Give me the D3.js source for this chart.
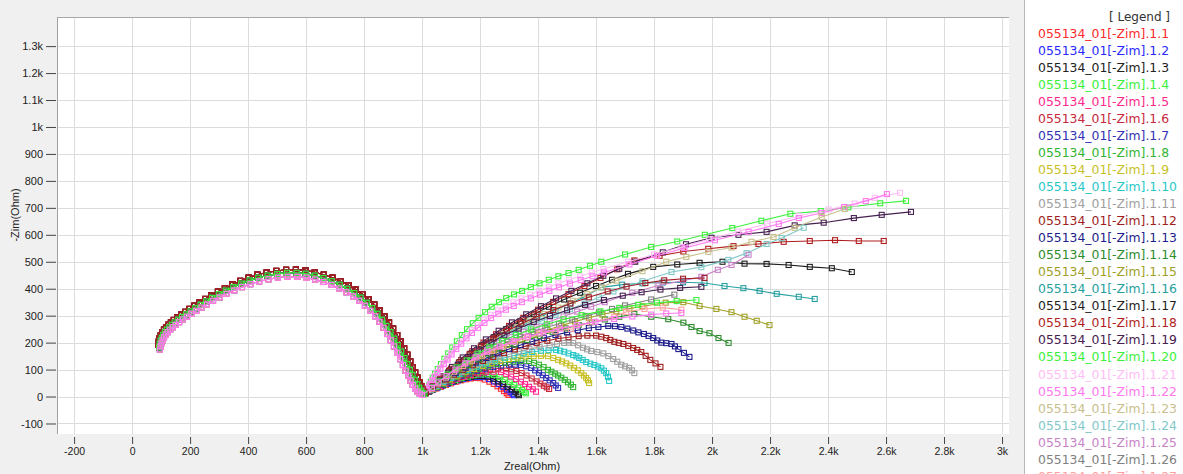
<!DOCTYPE html>
<html><head><meta charset="utf-8">
<script src="https://cdn.jsdelivr.net/npm/d3@7/dist/d3.min.js"></script>
<style>
html,body{margin:0;padding:0;background:#f0f0f0;}
svg{display:block;}
</style></head>
<body>
<svg id="chart" width="1183" height="474"></svg>
<script>
// ---------- data ----------
const XTICKS = [-200,0,200,400,600,800,1000,1200,1400,1600,1800,2000,2200,2400,2600,2800,3000];
const YTICKS = [-100,0,100,200,300,400,500,600,700,800,900,1000,1100,1200,1300];

const SERIES_NAMES = [
 "055134_01[-Zim].1.1","055134_01[-Zim].1.2","055134_01[-Zim].1.3","055134_01[-Zim].1.4",
 "055134_01[-Zim].1.5","055134_01[-Zim].1.6","055134_01[-Zim].1.7","055134_01[-Zim].1.8",
 "055134_01[-Zim].1.9","055134_01[-Zim].1.10","055134_01[-Zim].1.11","055134_01[-Zim].1.12",
 "055134_01[-Zim].1.13","055134_01[-Zim].1.14","055134_01[-Zim].1.15","055134_01[-Zim].1.16",
 "055134_01[-Zim].1.17","055134_01[-Zim].1.18","055134_01[-Zim].1.19","055134_01[-Zim].1.20",
 "055134_01[-Zim].1.21","055134_01[-Zim].1.22","055134_01[-Zim].1.23","055134_01[-Zim].1.24",
 "055134_01[-Zim].1.25","055134_01[-Zim].1.26","055134_01[-Zim].1.27","055134_01[-Zim].1.28",
 "055134_01[-Zim].1.29","055134_01[-Zim].1.30","055134_01[-Zim].1.31"];

const SERIES_COLORS = [
 "#ff2a2a","#2a2aff","#222222","#3cf03c","#ff2a8c","#c8283c","#3232b4","#32b432",
 "#c8c028","#28c8c8","#a0a0a0","#a01e1e","#1e1e8c","#2e8c2e","#a0a028","#28a0a0",
 "#1e1e1e","#b01e1e","#462050","#3cf03c","#ffbef5","#ff78f0","#c8c08c","#82c8c8",
 "#c882c8","#808080","#ffa0a0","#a01e28","#462050","#3cf03c","#ff78f0"];

// high-frequency arc (shared shape, three close variants)
const ARC_HI = [[90,192],[92,204],[95,216],[99,227],[104,238],[110,248],[117,257],[125,266],[134,275],[144,284],[156,294],[169,304],[183,314],[198,325],[215,337],[233,349],[252,362],[273,375],[296,389],[320,402],[346,416],[373,429],[402,441],[432,452],[464,460],[497,466],[531,470],[565,471],[598,468],[630,461],[661,452],[691,441],[719,428],[746,413],[771,397],[794,380],[815,361],[835,341],[853,320],[870,298],[886,275],[900,252],[914,228],[926,204],[938,179],[949,155],[959,131],[968,109],[976,89],[984,70],[991,53],[997,39],[1003,27],[1008,18],[1013,13]];
const ARC_MID = [[93,183],[95,195],[98,207],[102,218],[107,229],[113,239],[120,248],[128,257],[137,266],[147,275],[159,285],[172,295],[186,305],[201,316],[218,328],[236,340],[255,353],[276,366],[299,380],[323,393],[349,406],[376,419],[405,431],[435,441],[467,449],[500,455],[534,459],[567,459],[599,456],[630,449],[660,440],[689,428],[716,415],[742,400],[766,384],[788,367],[809,348],[828,328],[846,307],[862,285],[877,262],[891,239],[904,215],[916,191],[928,167],[939,143],[949,120],[958,99],[967,80],[975,62],[983,46],[990,33],[996,22],[1002,14],[1008,10]];
const ARC_LO = [[96,174],[98,186],[101,198],[105,209],[110,220],[116,230],[123,239],[131,248],[140,257],[150,266],[162,276],[175,286],[189,296],[204,307],[221,318],[239,330],[258,342],[279,355],[302,368],[326,381],[352,394],[379,406],[408,417],[438,427],[470,435],[503,441],[537,444],[570,444],[601,441],[631,434],[660,425],[688,414],[714,401],[739,387],[762,372],[783,355],[803,337],[821,318],[838,298],[853,277],[867,255],[880,232],[892,209],[903,186],[914,162],[924,139],[934,117],[943,96],[952,77],[960,59],[968,43],[976,30],[984,19],[992,11],[1000,6]];
const ARC_OF_SERIES = [0,1,0,1,1,0,1,1,1,1,1,0,1,1,1,1,0,0,1,1,2,2,2,2,2,2,2,0,1,1,2];

// low-frequency tails, one list per series
const TAILS = [
 [[1022,17],[1035,24],[1050,30],[1065,36],[1082,43],[1100,49],[1118,55],[1135,60],[1152,64],[1168,67],[1184,69],[1200,68],[1216,63],[1232,55],[1247,47],[1260,38],[1272,29],[1283,20],[1292,12],[1298,6]],
 [[1023,18],[1037,26],[1053,33],[1070,40],[1088,47],[1105,54],[1124,60],[1142,65],[1160,69],[1178,72],[1196,73],[1213,72],[1231,65],[1248,56],[1264,46],[1280,36],[1293,26],[1305,17],[1312,10],[1317,5]],
 [[1024,19],[1038,27],[1055,35],[1072,42],[1091,50],[1110,57],[1130,63],[1150,69],[1170,73],[1190,76],[1208,76],[1227,74],[1245,66],[1262,56],[1279,46],[1295,36],[1309,26],[1322,16],[1330,10],[1334,5]],
 [[1025,20],[1040,28],[1058,37],[1076,45],[1095,53],[1115,61],[1136,68],[1158,74],[1180,79],[1203,82],[1226,82],[1248,80],[1267,72],[1285,62],[1302,53],[1318,43],[1332,33],[1345,24],[1353,17],[1358,12]],
 [[1026,21],[1042,30],[1061,40],[1080,49],[1101,58],[1122,66],[1145,73],[1168,80],[1194,86],[1220,90],[1246,92],[1272,91],[1290,83],[1307,74],[1324,65],[1341,55],[1355,46],[1369,36],[1382,27],[1393,18]],
 [[1027,22],[1044,32],[1064,43],[1085,53],[1107,63],[1130,72],[1155,80],[1180,88],[1207,94],[1235,100],[1262,104],[1290,106],[1308,101],[1325,95],[1343,87],[1360,78],[1378,67],[1395,56],[1408,48],[1420,40],[1430,34],[1438,28]],
 [[1028,23],[1045,33],[1066,45],[1088,56],[1111,67],[1135,77],[1161,86],[1188,95],[1216,103],[1245,110],[1272,115],[1300,118],[1320,118],[1341,117],[1359,112],[1376,106],[1390,97],[1403,88],[1416,79],[1428,69],[1440,60],[1452,50],[1461,41],[1469,32]],
 [[1029,24],[1047,35],[1069,48],[1092,60],[1116,72],[1142,83],[1169,93],[1197,103],[1227,112],[1258,120],[1286,126],[1315,130],[1342,132],[1369,132],[1386,125],[1403,118],[1419,109],[1434,99],[1446,92],[1458,85],[1469,78],[1480,70],[1492,62],[1503,53],[1513,44],[1521,35]],
 [[1030,25],[1048,37],[1071,51],[1096,64],[1122,77],[1150,90],[1179,102],[1208,113],[1239,123],[1270,132],[1300,139],[1330,145],[1357,148],[1385,150],[1410,151],[1434,150],[1452,143],[1469,136],[1483,130],[1497,123],[1511,115],[1524,106],[1537,97],[1549,87],[1558,78],[1566,69],[1572,60],[1576,50]],
 [[1031,26],[1050,39],[1074,54],[1100,69],[1128,84],[1158,98],[1189,111],[1220,123],[1252,134],[1285,144],[1318,152],[1350,160],[1380,165],[1410,170],[1436,172],[1462,173],[1476,170],[1490,166],[1505,160],[1521,154],[1532,149],[1542,143],[1554,136],[1566,128],[1580,122],[1594,117],[1606,111],[1618,105],[1627,96],[1635,87],[1641,73],[1645,58]],
 [[1032,28],[1052,42],[1077,58],[1105,75],[1135,91],[1166,106],[1199,120],[1232,134],[1266,146],[1300,157],[1335,167],[1370,176],[1405,184],[1440,190],[1465,195],[1490,199],[1506,200],[1521,199],[1538,190],[1555,181],[1569,175],[1583,169],[1604,165],[1625,160],[1642,150],[1659,139],[1673,129],[1687,118],[1700,112],[1714,106],[1724,97],[1732,87]],
 [[1033,30],[1054,45],[1081,63],[1110,81],[1142,99],[1175,116],[1210,132],[1245,147],[1282,161],[1320,175],[1357,187],[1395,198],[1432,207],[1470,215],[1505,220],[1540,224],[1570,226],[1600,226],[1618,222],[1635,217],[1649,210],[1663,203],[1678,199],[1694,195],[1711,188],[1728,180],[1742,173],[1756,165],[1771,151],[1787,136],[1805,123],[1822,110]],
 [[1034,32],[1056,48],[1085,68],[1116,88],[1150,107],[1185,126],[1222,143],[1260,160],[1300,176],[1340,191],[1380,204],[1420,217],[1460,228],[1500,238],[1537,246],[1575,254],[1608,258],[1642,262],[1665,261],[1687,258],[1708,252],[1728,245],[1746,238],[1765,232],[1781,225],[1797,217],[1811,208],[1825,200],[1842,198],[1860,195],[1872,186],[1884,176],[1903,162],[1922,147]],
 [[1035,34],[1058,52],[1088,74],[1122,96],[1158,117],[1196,138],[1236,157],[1277,176],[1319,193],[1362,210],[1406,225],[1450,240],[1495,253],[1540,265],[1585,276],[1630,286],[1680,296],[1732,306],[1790,296],[1849,287],[1901,274],[1929,258],[1957,243],[1991,235],[2022,217],[2057,199]],
 [[1036,36],[1060,56],[1092,80],[1128,104],[1166,127],[1207,150],[1249,171],[1293,192],[1339,211],[1385,230],[1432,247],[1480,263],[1527,278],[1575,292],[1622,304],[1670,316],[1715,326],[1760,335],[1840,348],[1901,350],[1957,336],[2015,325],[2067,313],[2112,296],[2154,281],[2198,265]],
 [[1037,38],[1062,62],[1092,90],[1125,118],[1160,145],[1195,172],[1234,199],[1275,225],[1319,250],[1365,275],[1412,298],[1460,320],[1510,345],[1560,370],[1618,405],[1690,415],[1760,420],[1830,423],[1900,424],[1974,421],[2043,410],[2108,402],[2164,392],[2223,381],[2299,370],[2354,362]],
 [[1038,40],[1064,66],[1096,97],[1130,128],[1167,159],[1205,190],[1247,220],[1290,250],[1337,278],[1385,305],[1437,333],[1490,360],[1545,385],[1600,410],[1655,433],[1710,455],[1797,481],[1880,490],[1957,496],[2036,500],[2112,493],[2188,492],[2264,488],[2337,481],[2413,476],[2482,462]],
 [[1039,42],[1066,70],[1100,103],[1135,136],[1173,168],[1212,200],[1255,231],[1300,262],[1349,292],[1400,322],[1452,351],[1505,380],[1560,410],[1615,440],[1673,472],[1732,505],[1819,522],[1901,538],[1987,548],[2074,558],[2160,566],[2247,574],[2337,577],[2424,580],[2506,577],[2592,577]],
 [[1040,44],[1068,75],[1103,110],[1140,145],[1179,179],[1220,212],[1264,244],[1310,275],[1359,305],[1410,335],[1462,364],[1515,392],[1570,420],[1625,448],[1680,474],[1735,500],[1830,535],[1910,565],[1998,589],[2091,600],[2188,611],[2285,635],[2385,645],[2489,662],[2585,674],[2686,685]],
 [[1020,30],[1025,42],[1030,55],[1037,70],[1045,85],[1054,102],[1065,120],[1077,140],[1090,160],[1104,182],[1120,205],[1137,228],[1155,250],[1175,272],[1195,292],[1217,313],[1240,333],[1265,350],[1290,365],[1317,379],[1345,392],[1375,406],[1405,420],[1437,433],[1470,446],[1505,458],[1540,470],[1579,485],[1618,500],[1700,527],[1790,555],[1880,575],[1975,600],[2070,625],[2170,652],[2270,678],[2375,688],[2470,702],[2580,717],[2669,726]],
 [[1019,26],[1023,36],[1028,46],[1035,60],[1043,74],[1052,90],[1062,106],[1074,124],[1087,142],[1101,162],[1117,183],[1134,204],[1152,225],[1171,246],[1192,266],[1214,285],[1237,303],[1262,320],[1288,336],[1315,350],[1343,364],[1373,378],[1404,392],[1437,406],[1470,420],[1507,433],[1545,446],[1585,460],[1625,473],[1710,500],[1800,527],[1895,555],[1990,583],[2090,612],[2190,641],[2300,670],[2402,694],[2492,716],[2561,737],[2648,756]],
 [[1019,27],[1024,37],[1029,47],[1036,60],[1044,73],[1053,88],[1063,103],[1075,120],[1088,137],[1102,156],[1118,176],[1135,196],[1153,216],[1172,236],[1193,255],[1215,273],[1238,291],[1263,307],[1289,322],[1316,336],[1344,350],[1375,364],[1406,378],[1439,392],[1472,405],[1510,419],[1547,432],[1588,446],[1628,460],[1715,490],[1810,522],[1905,551],[2010,580],[2126,611],[2230,640],[2299,662],[2378,681],[2455,703],[2530,725],[2603,751]],
 [[1038,38],[1063,64],[1095,94],[1128,124],[1164,152],[1200,180],[1241,206],[1282,232],[1327,257],[1372,282],[1421,306],[1470,330],[1520,355],[1570,380],[1620,405],[1670,430],[1760,465],[1842,500],[1911,518],[1987,537],[2067,553],[2136,574],[2212,592],[2285,626],[2378,666],[2458,696]],
 [[1037,36],[1061,60],[1093,88],[1125,116],[1160,142],[1195,168],[1235,192],[1275,215],[1320,238],[1365,260],[1413,281],[1460,302],[1510,324],[1560,345],[1610,368],[1660,390],[1760,428],[1860,462],[1963,480],[2056,507],[2119,532],[2188,566],[2240,588],[2316,626]],
 [[1036,34],[1059,56],[1090,82],[1120,108],[1154,132],[1188,156],[1227,178],[1265,200],[1308,220],[1350,240],[1395,259],[1440,278],[1488,297],[1535,315],[1583,333],[1630,350],[1725,385],[1815,412],[1900,430],[1963,444],[2020,470],[2067,488],[2126,526]],
 [[1035,32],[1057,52],[1086,76],[1115,100],[1148,123],[1180,145],[1218,166],[1255,186],[1296,204],[1337,222],[1381,239],[1425,255],[1472,270],[1518,285],[1564,299],[1610,312],[1655,325],[1700,338],[1790,360],[1870,378]],
 [[1034,30],[1055,48],[1082,70],[1110,92],[1141,113],[1172,133],[1207,152],[1242,170],[1281,187],[1320,204],[1362,219],[1405,234],[1460,242],[1514,250],[1580,275],[1663,296],[1704,314],[1767,325],[1830,330],[1894,322]],
 [[1037,38],[1062,64],[1093,95],[1127,126],[1164,157],[1203,186],[1246,215],[1292,243],[1342,270],[1395,296],[1452,321],[1512,345],[1575,368],[1640,390],[1705,408],[1770,421],[1835,431],[1900,437],[1974,440]],
 [[1036,36],[1060,60],[1090,89],[1123,118],[1159,147],[1197,174],[1239,201],[1284,227],[1333,252],[1385,276],[1441,299],[1500,320],[1562,340],[1627,358],[1692,374],[1757,387],[1822,397],[1890,403],[1963,407]],
 [[1035,34],[1058,56],[1087,82],[1119,108],[1154,134],[1191,159],[1232,183],[1276,206],[1324,228],[1375,249],[1430,268],[1488,286],[1550,302],[1615,316],[1680,329],[1745,340],[1810,348],[1878,354],[1946,358]],
 [[1034,32],[1056,52],[1084,76],[1115,100],[1149,123],[1185,145],[1225,166],[1268,186],[1315,205],[1365,222],[1418,238],[1475,252],[1535,265],[1598,277],[1662,288],[1725,297],[1790,304],[1842,308],[1894,310]]
];

const X_TITLE = "Zreal(Ohm)";
const Y_TITLE = "-Zim(Ohm)";
const LEGEND_TITLE = "[ Legend ]";

// ---------- drawing ----------
const svg = d3.select("#chart");
const W = 1183, H = 474;
const P = {l:57, r:1009, t:17, b:434};

const x = d3.scaleLinear().domain([-259, 3024]).range([P.l, P.r]);
const y = d3.scaleLinear().domain([-139, 1408]).range([P.b, P.t]);
const fmt = v => Math.abs(v) >= 1000 ? (v/1000) + "k" : String(v);
const TICK_FONT = "'Liberation Sans', Arial, sans-serif";

svg.append("rect").attr("width", W).attr("height", H).attr("fill", "#f0f0f0");

// plot area
svg.append("rect").attr("x", P.l).attr("y", P.t).attr("width", P.r - P.l).attr("height", P.b - P.t)
  .attr("fill", "#ffffff");

// grid
const grid = svg.append("g");
grid.selectAll("line.v").data(XTICKS).join("line")
  .attr("x1", d => Math.round(x(d)) + 0.5).attr("x2", d => Math.round(x(d)) + 0.5)
  .attr("y1", P.t).attr("y2", P.b).attr("stroke", "#dcdcdc").attr("stroke-width", 1);
grid.selectAll("line.h").data(YTICKS).join("line")
  .attr("y1", d => Math.round(y(d)) + 0.5).attr("y2", d => Math.round(y(d)) + 0.5)
  .attr("x1", P.l).attr("x2", P.r).attr("stroke", "#dcdcdc").attr("stroke-width", 1);

// frame
svg.append("line").attr("x1", P.l).attr("x2", P.r).attr("y1", P.t + 0.5).attr("y2", P.t + 0.5).attr("stroke", "#a8a8a8");
svg.append("line").attr("x1", P.l + 0.5).attr("x2", P.l + 0.5).attr("y1", P.t).attr("y2", P.b).attr("stroke", "#a0a0a0");

// axes
const xAxis = d3.axisBottom(x).tickValues(XTICKS).tickFormat(fmt).tickSize(7).tickPadding(4);
const gx = svg.append("g").attr("transform", `translate(0,${P.b + 3})`).call(xAxis);
gx.select(".domain").remove();
gx.selectAll(".tick line").attr("stroke", "#444");
gx.selectAll(".tick text").attr("fill", "#222").style("font-family", TICK_FONT).style("font-size", "10.5px");

const yAxis = d3.axisLeft(y).tickValues(YTICKS).tickFormat(fmt).tickSize(10).tickPadding(3);
const gy = svg.append("g").attr("transform", `translate(${P.l - 1},0)`).call(yAxis);
gy.select(".domain").remove();
gy.selectAll(".tick line").attr("stroke", "#444");
gy.selectAll(".tick text").attr("fill", "#222").style("font-family", TICK_FONT).style("font-size", "11px");

svg.append("text").attr("x", 532).attr("y", 470).attr("text-anchor", "middle")
  .style("font-family", TICK_FONT).style("font-size", "11px").attr("fill", "#222")
  .text(X_TITLE);
svg.append("text").attr("transform", "translate(19,215) rotate(-90)").attr("text-anchor", "middle")
  .style("font-family", TICK_FONT).style("font-size", "11px").attr("fill", "#222")
  .text(Y_TITLE);

// series
svg.append("clipPath").attr("id", "clip").append("rect")
  .attr("x", P.l).attr("y", P.t).attr("width", P.r - P.l).attr("height", P.b - P.t);
const plot = svg.append("g").attr("clip-path", "url(#clip)");
const ARCS = [ARC_HI, ARC_MID, ARC_LO];
const line = d3.line().x(d => x(d[0])).y(d => y(d[1]));
const series = SERIES_NAMES.map((name, i) => ({
  name, color: SERIES_COLORS[i], pts: ARCS[ARC_OF_SERIES[i]].concat(TAILS[i])
}));
series.forEach(s => {
  const g = plot.append("g");
  g.append("path").attr("d", line(s.pts)).attr("fill", "none").attr("stroke", s.color).attr("stroke-width", 1.1);
  g.selectAll("rect").data(s.pts).join("rect")
    .attr("x", d => x(d[0]) - 2.5).attr("y", d => y(d[1]) - 2.5)
    .attr("width", 5).attr("height", 5)
    .attr("fill", "none").attr("stroke", s.color).attr("stroke-width", 1.1);
});

// legend panel (entries that run past the bottom edge are cut, as in a scrolled legend box)
svg.append("rect").attr("x", 1024).attr("y", 0).attr("width", W - 1024).attr("height", H).attr("fill", "#ffffff");
svg.append("line").attr("x1", 1024.5).attr("x2", 1024.5).attr("y1", 0).attr("y2", H).attr("stroke", "#b8b8b8");
svg.append("text").attr("x", 1170).attr("y", 17).attr("text-anchor", "end").attr("dominant-baseline", "middle")
  .style("font-family", "'DejaVu Sans', Verdana, sans-serif").style("font-size", "12px").attr("fill", "#333")
  .text(LEGEND_TITLE);
const LEG_Y0 = 34, LEG_DY = 17.05;
const legendItems = series.filter((d, i) => LEG_Y0 + i * LEG_DY < H + 8);
svg.append("g").selectAll("text").data(legendItems).join("text")
  .attr("x", 1038).attr("y", (d, i) => LEG_Y0 + i * LEG_DY).attr("dominant-baseline", "middle")
  .style("font-family", "'DejaVu Sans', Verdana, sans-serif").style("font-size", "12.4px")
  .attr("fill", d => d.color).text(d => d.name);
</script>
</body></html>
